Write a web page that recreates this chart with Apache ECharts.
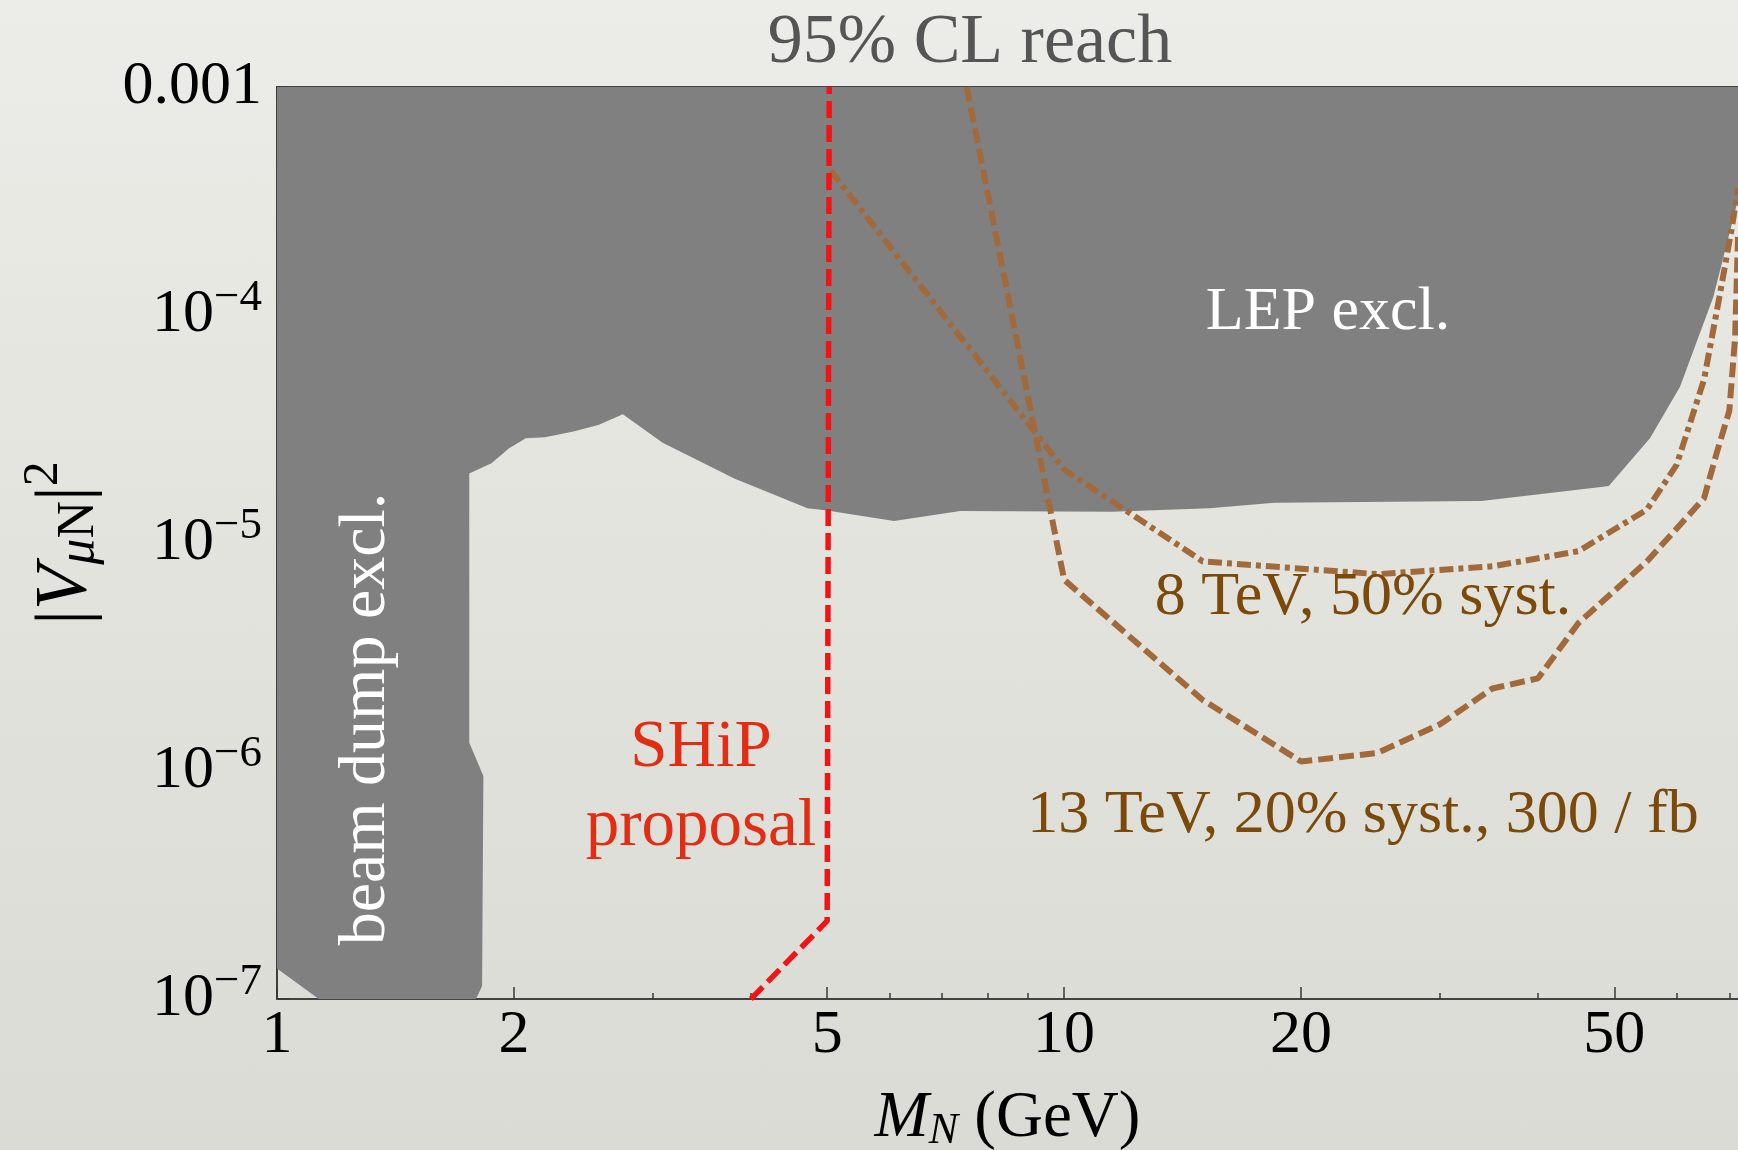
<!DOCTYPE html>
<html>
<head>
<meta charset="utf-8">
<script src="https://cdn.jsdelivr.net/npm/echarts@6/dist/echarts.min.js"></script>
<style>
  html, body { margin: 0; padding: 0; width: 1738px; height: 1150px; overflow: hidden;
    background: linear-gradient(180deg, #ecece8 0%, #e2e2dc 55%, #dbdbd5 100%); }
  #chart { width: 1738px; height: 1150px; }
</style>
</head>
<body>
<div id="chart"></div>
<script>
// Heavy neutrino mixing |V_muN|^2 against mass M_N:
// excluded regions (beam dump, LEP) and projected 95% CL reach curves.

const massRange = [1, 71.8];
const mixRange = [1e-7, 1e-3];

// Closed outline of the excluded (grey) area: beam dump column on the left
// joined to the LEP exclusion above.
const excludedMass = [1, 1, 1.13, 1.79, 1.822, 1.829, 1.755, 1.755, 1.873, 1.97, 2.07, 2.19, 2.38,
  2.56, 2.75, 3.09, 3.81, 4.72, 5.0, 6.08, 7.38, 11.5, 15.3, 18.5, 33.9, 47.5, 49.2, 55.5, 60.6,
  66.8, 71.8, 71.8];
const excludedMix = [1e-3, 1.36e-7, 1e-7, 1e-7, 1.14e-7, 9.5e-7, 1.33e-6, 2.02e-5, 2.24e-5, 2.6e-5,
  2.88e-5, 2.91e-5, 3.08e-5, 3.29e-5, 3.67e-5, 2.75e-5, 1.92e-5, 1.42e-5, 1.39e-5, 1.25e-5,
  1.38e-5, 1.37e-5, 1.42e-5, 1.5e-5, 1.53e-5, 1.75e-5, 1.78e-5, 2.88e-5, 4.85e-5, 1.2e-4,
  3.2e-4, 1e-3];

// SHiP proposal
const shipMass = [4.0, 5.0, 5.03];
const shipMix = [1e-7, 2.2e-7, 1e-3];

// 8 TeV, 50% systematics
const lhc8Mass = [5.05, 10, 15, 25, 35, 45, 55, 60, 65, 68, 70.5, 71.8];
const lhc8Mix = [4.3e-4, 2.1e-5, 8.3e-6, 7.3e-6, 7.9e-6, 9.2e-6, 1.4e-5, 2.2e-5, 5.2e-5, 1.2e-4,
  2.4e-4, 3.6e-4];

// 13 TeV, 20% systematics, 300/fb
const lhc13Mass = [7.52, 10, 15, 20, 25, 30, 35, 40, 45, 55, 65, 67.5, 70, 71.2, 71.8];
const lhc13Mix = [1e-3, 6.9e-6, 2.05e-6, 1.1e-6, 1.2e-6, 1.6e-6, 2.3e-6, 2.55e-6, 4.45e-6, 8.3e-6,
  1.57e-5, 2.5e-5, 3.8e-5, 8e-5, 2.2e-4];

// Tick positions
const massMajorTicks = [1, 2, 5, 10, 20, 50];
const massMinorTicks = [3, 4, 6, 7, 8, 9, 30, 40, 60, 70];
const mixMajorTicks = [1e-7, 1e-6, 1e-5, 1e-4, 1e-3];
const mixMinorTicks = [
  2e-7, 3e-7, 4e-7, 5e-7, 6e-7, 7e-7, 8e-7, 9e-7,
  2e-6, 3e-6, 4e-6, 5e-6, 6e-6, 7e-6, 8e-6, 9e-6,
  2e-5, 3e-5, 4e-5, 5e-5, 6e-5, 7e-5, 8e-5, 9e-5,
  2e-4, 3e-4, 4e-4, 5e-4, 6e-4, 7e-4, 8e-4, 9e-4
];

const SERIF = '"Liberation Serif", "DejaVu Serif", serif';
const AXIS_COLOR = '#3a3a3a';
const BROWN = '#a26a3a';
const BROWN_TEXT = '#7b4a0a';

const pairs = (xs, ys) => xs.map((x, i) => [x, ys[i]]);

function massAxis(position, ticks, len, labels) {
  return {
    type: 'log', logBase: 10, min: massRange[0], max: massRange[1], gridIndex: 0,
    position: position,
    splitLine: { show: false },
    axisLine: { show: true, lineStyle: { color: AXIS_COLOR, width: 1.6 } },
    axisTick: { show: true, inside: true, length: len, customValues: ticks,
      lineStyle: { color: AXIS_COLOR, width: 1.5 } },
    axisLabel: labels ? {
      show: true, customValues: ticks, margin: 6,
      fontFamily: SERIF, fontSize: 62, color: '#000',
      formatter: v => String(+Number(v).toPrecision(4))
    } : { show: false }
  };
}

function mixAxis(ticks, len, labels) {
  return {
    type: 'log', logBase: 10, min: mixRange[0], max: mixRange[1], gridIndex: 0,
    position: 'left',
    splitLine: { show: false },
    axisLine: { show: true, lineStyle: { color: AXIS_COLOR, width: 1.6 } },
    axisTick: { show: true, inside: true, length: len, customValues: ticks,
      lineStyle: { color: AXIS_COLOR, width: 1.5 } },
    axisLabel: labels ? {
      show: true, customValues: ticks, margin: 15,
      fontFamily: SERIF, fontSize: 62, color: '#000',
      formatter: v => {
        const e = Math.round(Math.log10(v));
        return e === -3 ? '0.001' : '{b|10}{s|\u2212' + (-e) + '}';
      },
      rich: {
        b: { fontFamily: SERIF, fontSize: 62, color: '#000' },
        s: { fontFamily: SERIF, fontSize: 45, color: '#000', padding: [0, 0, 34, 0] }
      }
    } : { show: false }
  };
}

const xBottom = massAxis('bottom', massMajorTicks, 12, true);
xBottom.name = '{i|M}{sub|N}{r| (GeV)}';
xBottom.nameLocation = 'middle';
xBottom.nameGap = 86;
xBottom.nameTextStyle = {
  rich: {
    i: { fontFamily: SERIF, fontSize: 65, fontStyle: 'italic', color: '#000' },
    sub: { fontFamily: SERIF, fontSize: 44, fontStyle: 'italic', color: '#000', padding: [24, 0, 0, 0] },
    r: { fontFamily: SERIF, fontSize: 65, color: '#000' }
  }
};

const yLeft = mixAxis(mixMajorTicks, 12, true);
yLeft.name = '{p||}{v|V}{s|\u03bc}{n|N}{p||}{sup|2}';
yLeft.nameLocation = 'middle';
yLeft.nameRotate = 90;
yLeft.nameGap = 162;
yLeft.nameTextStyle = {
  rich: {
    p: { fontFamily: SERIF, fontSize: 74, color: '#000' },
    v: { fontFamily: SERIF, fontSize: 74, fontStyle: 'italic', color: '#000' },
    s: { fontFamily: SERIF, fontSize: 52, fontStyle: 'italic', color: '#000', padding: [24, 0, 0, 0] },
    n: { fontFamily: SERIF, fontSize: 52, color: '#000', padding: [24, 0, 0, 0] },
    sup: { fontFamily: SERIF, fontSize: 50, color: '#000', padding: [0, 0, 46, 0] }
  }
};

const option = {
  animation: false,
  backgroundColor: 'transparent',
  grid: { left: 277, top: 87, right: 0, bottom: 151, outerBoundsMode: 'none', containLabel: false },
  xAxis: [
    xBottom,
    massAxis('bottom', massMinorTicks, 6, false),
    massAxis('top', massMajorTicks, 12, false),
    massAxis('top', massMinorTicks, 6, false)
  ],
  yAxis: [
    yLeft,
    mixAxis(mixMinorTicks, 6, false)
  ],
  series: [
    {
      name: 'excluded',
      type: 'custom',
      coordinateSystem: 'cartesian2d',
      xAxisIndex: 0, yAxisIndex: 0,
      silent: true,
      clip: true,
      z: 1,
      data: [[excludedMass[0], excludedMix[0]]],
      renderItem: (params, api) => ({
        type: 'polygon',
        shape: { points: excludedMass.map((m, i) => api.coord([m, excludedMix[i]])) },
        style: { fill: '#808080', stroke: null }
      })
    },
    {
      name: '13 TeV, 20% syst., 300/fb',
      type: 'line', xAxisIndex: 0, yAxisIndex: 0, z: 3,
      symbol: 'none', silent: true,
      data: pairs(lhc13Mass, lhc13Mix),
      lineStyle: { color: BROWN, width: 6, type: [15, 6], cap: 'butt' }
    },
    {
      name: '8 TeV, 50% syst.',
      type: 'line', xAxisIndex: 0, yAxisIndex: 0, z: 3,
      symbol: 'none', silent: true,
      data: pairs(lhc8Mass, lhc8Mix),
      lineStyle: { color: BROWN, width: 6, type: [14, 5, 5, 5], cap: 'butt' }
    },
    {
      name: 'SHiP proposal',
      type: 'line', xAxisIndex: 0, yAxisIndex: 0, z: 4,
      symbol: 'none', silent: true,
      data: pairs(shipMass, shipMix),
      lineStyle: { color: '#f21414', width: 5.5, type: [17, 7], cap: 'butt' }
    }
  ],
  graphic: [
    { type: 'text', x: 970, y: 44, z: 10,
      style: { text: '95% CL reach', font: '70px ' + SERIF, fill: '#555555',
        textAlign: 'center', textVerticalAlign: 'middle' } },
    { type: 'text', x: 1328, y: 313, z: 10,
      style: { text: 'LEP excl.', font: '62px ' + SERIF, fill: '#ffffff',
        textAlign: 'center', textVerticalAlign: 'middle' } },
    { type: 'text', x: 367, y: 719, z: 10, rotation: Math.PI / 2,
      style: { text: 'beam dump excl.', font: '66px ' + SERIF, fill: '#ffffff',
        textAlign: 'center', textVerticalAlign: 'middle' } },
    { type: 'text', x: 701, y: 788, z: 10,
      style: { text: 'SHiP\nproposal', font: '67px ' + SERIF, fill: '#e22d14', lineHeight: 79,
        textAlign: 'center', textVerticalAlign: 'middle' } },
    { type: 'text', x: 1363, y: 598, z: 10,
      style: { text: '8 TeV, 50% syst.', font: '62px ' + SERIF, fill: BROWN_TEXT,
        textAlign: 'center', textVerticalAlign: 'middle' } },
    { type: 'text', x: 1363, y: 816, z: 10,
      style: { text: '13 TeV, 20% syst., 300 / fb', font: '62px ' + SERIF, fill: BROWN_TEXT,
        textAlign: 'center', textVerticalAlign: 'middle' } }
  ]
};

const chart = echarts.init(document.getElementById('chart'), null, { renderer: 'canvas' });
chart.setOption(option);
</script>
</body>
</html>
